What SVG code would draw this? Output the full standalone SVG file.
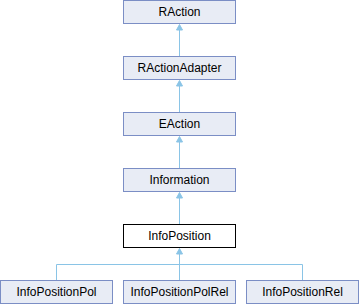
<svg xmlns="http://www.w3.org/2000/svg" width="359" height="304" viewBox="0 0 359 304">
<style>
.n rect{fill:#E8ECF5;stroke:#7B8EC5;stroke-width:1}
.cur rect{fill:#FFFFFF;stroke:#000000;stroke-width:1}
text{font-family:"Liberation Sans",Arial,sans-serif;font-size:12px;fill:#000;text-anchor:middle}
.e{stroke:#8AC4E6;stroke-width:1;fill:none}
.a{fill:#8AC4E6;stroke:#8AC4E6;stroke-width:1}
</style>
<rect width="359" height="304" fill="#fff"/>
<g id="connectors">
<path class="e" d="M179.5,30 V56.5"/>
<path class="a" d="M179.5,24.5 L176.5,30 L182.5,30 Z"/>
<path class="e" d="M179.5,86 V112.5"/>
<path class="a" d="M179.5,80.5 L176.5,86 L182.5,86 Z"/>
<path class="e" d="M179.5,142 V168.5"/>
<path class="a" d="M179.5,136.5 L176.5,142 L182.5,142 Z"/>
<path class="e" d="M179.5,198 V224.5"/>
<path class="a" d="M179.5,192.5 L176.5,198 L182.5,198 Z"/>
<path class="e" d="M179.5,254 V280.5 M56.5,280.5 V264.5 H302.5 V280.5"/>
<path class="a" d="M179.5,248.5 L176.5,254 L182.5,254 Z"/>
</g>
<g id="RAction" class="n"><rect x="123.5" y="0.5" width="112" height="23"/><text x="179.5" y="16">RAction</text></g>
<g id="RActionAdapter" class="n"><rect x="123.5" y="56.5" width="112" height="23"/><text x="179.5" y="72">RActionAdapter</text></g>
<g id="EAction" class="n"><rect x="123.5" y="112.5" width="112" height="23"/><text x="179.5" y="128">EAction</text></g>
<g id="Information" class="n"><rect x="123.5" y="168.5" width="112" height="23"/><text x="179.5" y="184">Information</text></g>
<g id="InfoPosition" class="cur"><rect x="123.5" y="224.5" width="112" height="23"/><text x="179.5" y="240">InfoPosition</text></g>
<g id="InfoPositionPol" class="n"><rect x="0.5" y="280.5" width="112" height="23"/><text x="56.5" y="296">InfoPositionPol</text></g>
<g id="InfoPositionPolRel" class="n"><rect x="123.5" y="280.5" width="112" height="23"/><text x="179.5" y="296">InfoPositionPolRel</text></g>
<g id="InfoPositionRel" class="n"><rect x="246.5" y="280.5" width="112" height="23"/><text x="302.5" y="296">InfoPositionRel</text></g>
</svg>
